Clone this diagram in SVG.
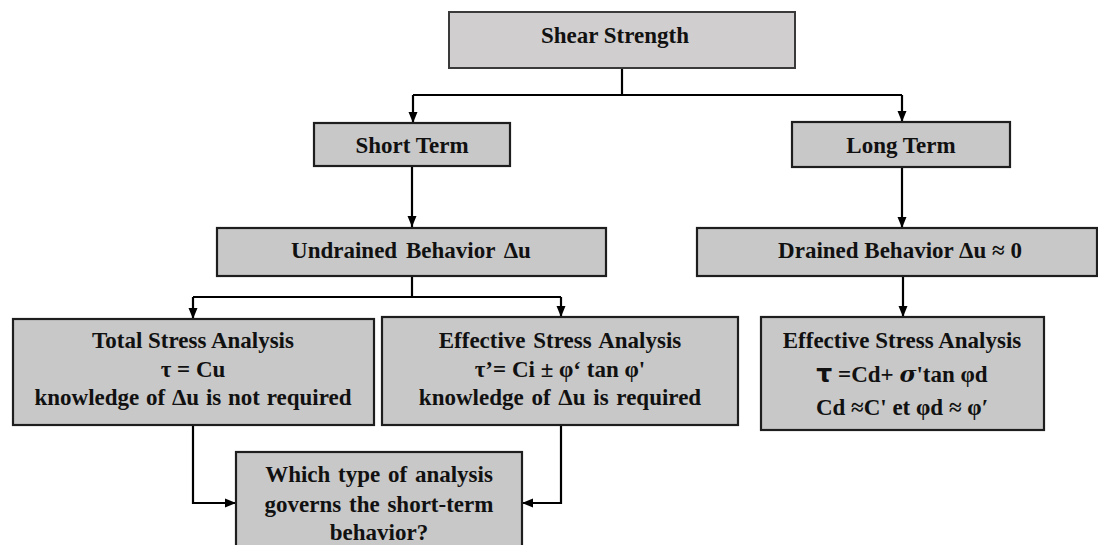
<svg xmlns="http://www.w3.org/2000/svg" width="1098" height="545" viewBox="0 0 1098 545">
<defs>
<marker id="ah" markerUnits="userSpaceOnUse" markerWidth="12" markerHeight="12" viewBox="0 0 12 12" refX="11" refY="6" orient="auto">
<path d="M0,1.5 L11,6 L0,10.5 Z" fill="#000"/>
</marker>
<style>
.box{fill:#c8c8c8;stroke:#1e1e1e;stroke-width:2.2}
.top{fill:#d0cece;stroke:#3a3a3a;stroke-width:2}
.t{font-family:"Liberation Serif","Times New Roman",serif;font-weight:bold;font-size:23px;fill:#111;text-anchor:middle}
.c{fill:none;stroke:#000;stroke-width:2.2}
</style>
</defs>
<rect width="1098" height="545" fill="#fff"/>
<g id="connectors">
<path class="c" d="M622,68 V95"/>
<path class="c" d="M413,95 H902"/>
<path class="c" d="M413,95 V123" marker-end="url(#ah)"/>
<path class="c" d="M902,95 V122" marker-end="url(#ah)"/>
<path class="c" d="M412,166 V227" marker-end="url(#ah)"/>
<path class="c" d="M902,167 V228" marker-end="url(#ah)"/>
<path class="c" d="M412,276 V297"/>
<path class="c" d="M193,297 H561"/>
<path class="c" d="M193,297 V319" marker-end="url(#ah)"/>
<path class="c" d="M561,297 V317" marker-end="url(#ah)"/>
<path class="c" d="M903,276 V317" marker-end="url(#ah)"/>
<path class="c" d="M193,425 V503 H236" marker-end="url(#ah)"/>
<path class="c" d="M561,425 V503 H522" marker-end="url(#ah)"/>
</g>
<g id="shear">
<rect class="top" x="449" y="12" width="346" height="56"/>
<text class="t" x="615" y="43" font-size="24">Shear Strength</text>
</g>
<g id="short">
<rect class="box" x="314" y="123" width="196" height="43"/>
<text class="t" x="412" y="153">Short Term</text>
</g>
<g id="long">
<rect class="box" x="792" y="122" width="218" height="45"/>
<text class="t" x="901" y="153">Long Term</text>
</g>
<g id="undrained">
<rect class="box" x="217" y="228" width="389" height="48"/>
<text class="t" x="411" y="258" word-spacing="3">Undrained Behavior Δu</text>
</g>
<g id="drained">
<rect class="box" x="697" y="228" width="400" height="48"/>
<text class="t" x="900" y="258">Drained Behavior Δu ≈ 0</text>
</g>
<g id="total">
<rect class="box" x="13" y="319" width="361" height="106"/>
<text class="t" x="193" y="348">Total Stress Analysis</text>
<text class="t" x="193" y="377">τ = Cu</text>
<text class="t" x="193" y="405" word-spacing="1">knowledge of Δu is not required</text>
</g>
<g id="effective-short">
<rect class="box" x="382" y="317" width="356" height="108"/>
<text class="t" x="560" y="348" word-spacing="2">Effective Stress Analysis</text>
<text class="t" x="560" y="377">τ’= Ci ± φ‘ tan φ'</text>
<text class="t" x="560" y="405" word-spacing="2">knowledge of Δu is required</text>
</g>
<g id="effective-long">
<rect class="box" x="761" y="317" width="283" height="113"/>
<text class="t" x="902" y="348">Effective Stress Analysis</text>
<text class="t" x="902" y="382"><tspan font-family="'DejaVu Sans',sans-serif" font-size="25">τ</tspan> =Cd+ <tspan font-family="'DejaVu Serif',serif" font-style="italic">σ</tspan>'tan φd</text>
<text class="t" x="902" y="415">Cd ≈C' et φd ≈ φ′</text>
</g>
<g id="question">
<rect class="box" x="236" y="452" width="286" height="100"/>
<text class="t" x="379" y="482" word-spacing="2">Which type of analysis</text>
<text class="t" x="379" y="512" word-spacing="2">governs the short-term</text>
<text class="t" x="379" y="540">behavior?</text>
</g>
</svg>
